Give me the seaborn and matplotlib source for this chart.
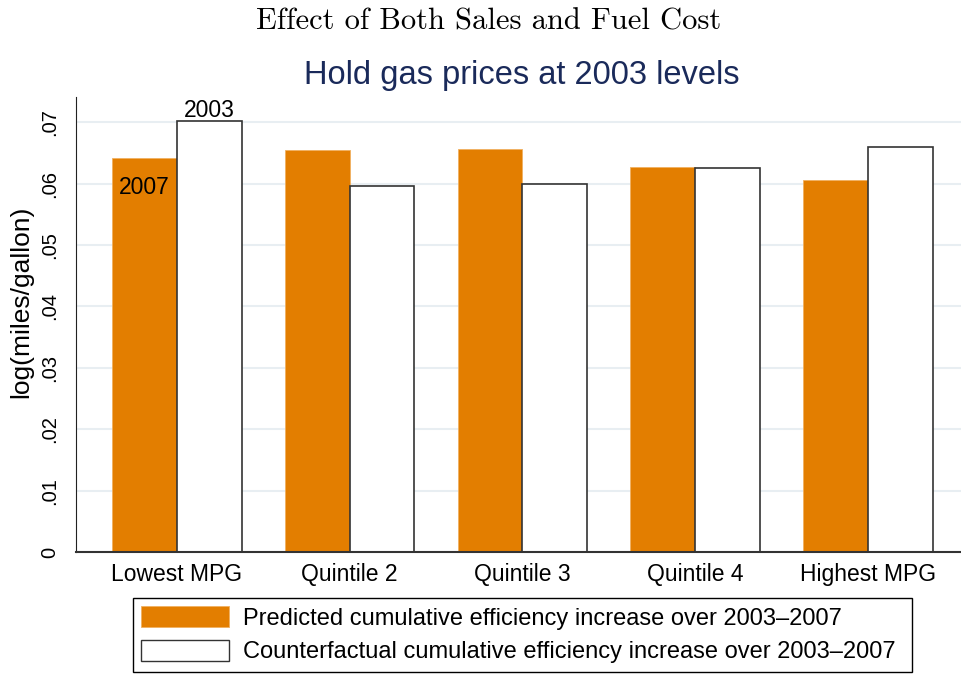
import pandas as pd
import seaborn as sns
import matplotlib.pyplot as plt
from matplotlib.patches import Patch
from matplotlib.ticker import FuncFormatter

# ==================================
# Data
# ==================================

groups = ['Lowest MPG', 'Quintile 2', 'Quintile 3', 'Quintile 4', 'Highest MPG']
predicted = [0.0641, 0.0654, 0.0656, 0.0627, 0.0606]
counterfactual = [0.0702, 0.0596, 0.0599, 0.0626, 0.0660]
series_names = ['Predicted cumulative efficiency increase over 2003\u20132007',
                'Counterfactual cumulative efficiency increase over 2003\u20132007']
yticks = [0, 0.01, 0.02, 0.03, 0.04, 0.05, 0.06, 0.07]

df = pd.DataFrame({
    'group': groups * 2,
    'value': predicted + counterfactual,
    'series': [series_names[0]] * len(groups) + [series_names[1]] * len(groups),
})

orange = '#E37E00'
navy = '#1A2A5A'

# ==================================
# Plot
# ==================================

sns.set_style('white')
plt.rcParams['font.family'] = ['Liberation Sans', 'DejaVu Sans']
plt.rcParams['text.color'] = 'black'
plt.rcParams['axes.labelcolor'] = 'black'
plt.rcParams['xtick.color'] = 'black'
plt.rcParams['ytick.color'] = 'black'

fig = plt.figure(figsize=(9.61, 6.75), dpi=100)
ax = fig.add_axes([0.0791, 0.1822, 0.9209, 0.6741])

sns.barplot(data=df, x='group', y='value', hue='series', order=groups,
            hue_order=series_names, palette=[orange, 'white'],
            width=0.75, saturation=1, legend=False, ax=ax)

for bar in ax.containers[0]:
    bar.set_edgecolor('#F0B060')
    bar.set_linewidth(0.6)
for bar in ax.containers[1]:
    bar.set_edgecolor('#333333')
    bar.set_linewidth(1.2)

ax.set_xlim(-0.584, 4.538)
ax.set_ylim(0, 0.0741)
ax.set_yticks(yticks)
ax.yaxis.set_major_formatter(FuncFormatter(lambda v, p: '0' if v == 0 else f'{v:.2f}'.lstrip('0')))
ax.grid(axis='y', color='#E8EEF2', linewidth=1.5)
ax.set_axisbelow(True)

for s in ['top', 'right']:
    ax.spines[s].set_visible(False)
ax.spines['left'].set_color('#222222')
ax.spines['bottom'].set_color('#333333')
ax.spines['bottom'].set_linewidth(1.5)

ax.tick_params(axis='y', direction='out', length=7.2, width=1, color='#222222',
               labelsize=14.5, labelrotation=90, pad=5)
ax.tick_params(axis='x', length=0, labelsize=16.5, pad=8)
for lbl in ax.get_yticklabels():
    lbl.set_va('center')

ax.set_xlabel('')
ax.set_ylabel('log(miles/gallon)', fontsize=19)
ax.yaxis.set_label_coords(-0.0486, 0.55)

# bar year labels on the first group
ax.annotate('2007', (-0.1875, predicted[0]), xytext=(0, -13), textcoords='offset points',
            ha='center', va='top', fontsize=16.5)
ax.annotate('2003', (0.1875, counterfactual[0]), xytext=(0, -1), textcoords='offset points',
            ha='center', va='bottom', fontsize=16.5)

# titles
fig.text(0.508, 0.967, 'Effect of Both Sales and Fuel Cost', ha='center', va='center',
         fontsize=22, family='cmr10')
fig.text(0.543, 0.888, 'Hold gas prices at 2003 levels', ha='center', va='center',
         fontsize=23.5, color=navy)

# legend
handles = [Patch(facecolor=orange, edgecolor='#F0B060', linewidth=0.6),
           Patch(facecolor='white', edgecolor='#333333', linewidth=1.0)]
fig.legend(handles, series_names, loc='lower left',
           bbox_to_anchor=(0.1384, 0.005, 0.8106, 0.11), mode='expand',
           fontsize=17, frameon=True, fancybox=False, edgecolor='black',
           framealpha=1, handlelength=3.7, handleheight=1.0, handletextpad=0.6,
           labelspacing=0.42, borderpad=0.35, borderaxespad=0)

plt.savefig('out.png', dpi=100)
